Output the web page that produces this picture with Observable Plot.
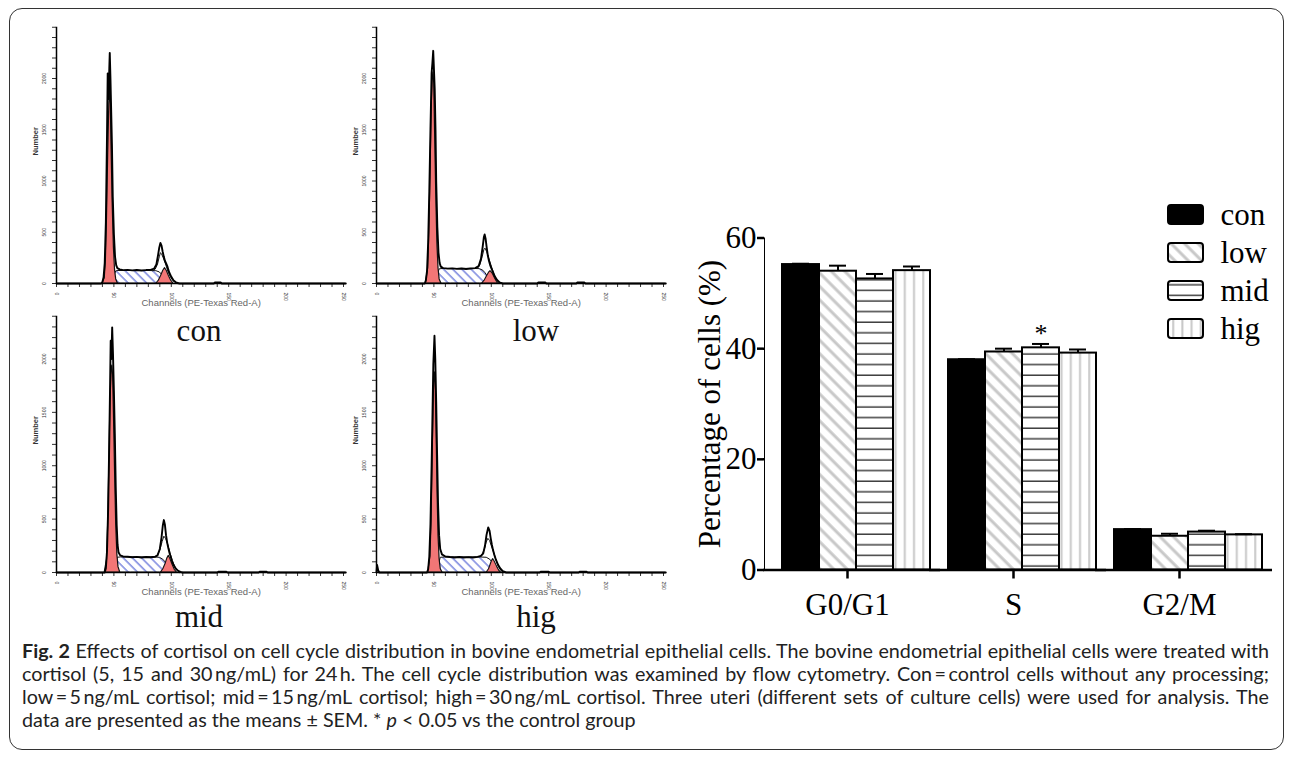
<!DOCTYPE html>
<html>
<head>
<meta charset="utf-8">
<script src="https://cdn.jsdelivr.net/npm/d3@7"></script>
<script src="https://cdn.jsdelivr.net/npm/@observablehq/plot@0.6"></script>
<style>
  html, body { margin: 0; padding: 0; background: #fff; }
  body { width: 1292px; height: 759px; position: relative; overflow: hidden; }
  .abs { position: absolute; }
  .panel-label { position: absolute; font-family: "Liberation Serif", serif; font-size: 31px; color: #111; transform: translateX(-50%); line-height: 1; }
  #caption { position: absolute; left: 22px; top: 639px; width: 1247px; font-family: Lato, sans-serif; font-size: 17px; line-height: 23px; color: #222; }
  #caption .ln { white-space: nowrap; text-align: justify; text-align-last: justify; }
  #caption .ln.last { text-align: left; text-align-last: left; }
  #caption.measure .ln { text-align: left; text-align-last: left; }
</style>
</head>
<body>
<div class="abs" style="left:9px; top:8px; width:1275px; height:742px; border:1.5px solid #333; border-radius:13px; box-sizing:border-box;"></div>

<svg width="0" height="0" style="position:absolute">
  <defs>
    <pattern id="lowHatch" patternUnits="userSpaceOnUse" width="9.5" height="9.5" patternTransform="rotate(-45)">
      <rect width="9.5" height="9.5" fill="#fff"></rect>
      <line x1="2" y1="0" x2="2" y2="9.5" stroke="#c8c8c8" stroke-width="3"></line>
    </pattern>
    <pattern id="midLines" patternUnits="userSpaceOnUse" width="10" height="10.6">
      <rect width="10" height="10.6" fill="#fff"></rect>
      <line x1="0" y1="5" x2="10" y2="5" stroke="#222" stroke-width="1.3"></line>
    </pattern>
    <pattern id="higLines" patternUnits="userSpaceOnUse" width="9.2" height="10">
      <rect width="9.2" height="10" fill="#fff"></rect>
      <line x1="4" y1="0" x2="4" y2="10" stroke="#c8c8c8" stroke-width="2"></line>
    </pattern>
    <pattern id="sHatch" patternUnits="userSpaceOnUse" width="6.5" height="6.5" patternTransform="rotate(-45)">
      <rect width="6.5" height="6.5" fill="#fff"></rect>
      <line x1="1" y1="0" x2="1" y2="6.5" stroke="#5a6ad8" stroke-width="1.2"></line>
    </pattern>
  </defs>
</svg>

<div id="h-con" class="abs" style="left:10px; top:10px;"></div>
<div id="h-low" class="abs" style="left:330px; top:10px;"></div>
<div id="h-mid" class="abs" style="left:10px; top:299px;"></div>
<div id="h-hig" class="abs" style="left:330px; top:299px;"></div>
<div id="labels"></div>
<div id="bars" class="abs" style="left:680px; top:190px;"></div>
<div id="legend" class="abs" style="left:1160px; top:195px;"></div>

<div id="caption">
  <div class="ln"><span><b>Fig. 2</b> Effects of cortisol on cell cycle distribution in bovine endometrial epithelial cells. The bovine endometrial epithelial cells were treated with</span></div>
  <div class="ln"><span>cortisol (5, 15 and 30&#8201;ng/mL) for 24&#8201;h. The cell cycle distribution was examined by flow cytometry. Con&#8201;=&#8201;control cells without any processing;</span></div>
  <div class="ln"><span>low&#8201;=&#8201;5&#8201;ng/mL cortisol; mid&#8201;=&#8201;15&#8201;ng/mL cortisol; high&#8201;=&#8201;30&#8201;ng/mL cortisol. Three uteri (different sets of culture cells) were used for analysis. The</span></div>
  <div class="ln last"><span>data are presented as the means ± SEM. * <i>p</i> &lt; 0.05 vs the control group</span></div>
</div>

<script>
// ---------------- Bar chart data ----------------
const phases = ["G0/G1", "S", "G2/M"];
const groups = ["con", "low", "mid", "hig"];
const conMean = [55.2, 38.0, 7.3];
const lowMean = [54.0, 39.4, 6.1];
const midMean = [52.6, 40.15, 6.85];
const higMean = [54.1, 39.2, 6.35];
const conSem = [0.15, 0.1, 0.1];
const lowSem = [1.0, 0.6, 0.45];
const midSem = [0.9, 0.7, 0.25];
const higSem = [0.75, 0.65, 0.12];
const starPhase = ["S"];
const starGroup = ["mid"];
const starText = ["*"];

// ---------------- Flow cytometry histograms: [channel, count] ----------------
const conRaw = [[0,0],[39,0],[40,15],[41,60],[42,200],[43,600],[44,1450],[44.6,2050],[45.3,1800],[46,2100],[46.4,2250],[47,2000],[47.6,1700],[48.3,1350],[49,850],[50,480],[51,260],[52,180],[53,150],[55,138],[58,130],[62,133],[66,128],[70,132],[74,127],[78,131],[82,133],[85,145],[87,185],[88.5,280],[89.5,350],[90.5,395],[91.5,370],[92.5,310],[93.5,260],[94.5,220],[95.5,195],[96.5,170],[97.5,130],[98.5,100],[100,65],[102,30],[104,12],[107,0],[137,0],[138,10],[143,10],[144,0],[252,0]];
const conG1 = [[40,0],[42,50],[43,220],[44,650],[45,1250],[46,1750],[46.6,1900],[47.3,1750],[48,1300],[49,750],[50,350],[51,130],[52,40],[53.5,0]];
const conS = [[47,0],[50,60],[52,118],[54,122],[60,122],[70,122],[80,122],[87,120],[90,108],[92,85],[94,55],[96,25],[98,0]];
const conG2 = [[87,0],[89,25],[91,70],[93,125],[94.5,150],[96,125],[98,70],[100,25],[102,0]];
const conFit = [[84,125],[86,140],[88,190],[89.5,260],[90.5,300],[91.5,290],[93,250],[95,190],[97,120],[99,70],[101,35],[103,12],[105,0]];

const lowRaw = [[0,0],[42,0],[43,30],[44,120],[45,400],[46,900],[47,1500],[48,2050],[48.7,2150],[49.4,2270],[50,2100],[50.7,1900],[51.4,1500],[52,1000],[53,550],[54,300],[55,200],[56,165],[58,150],[62,145],[66,148],[70,143],[74,146],[78,142],[82,147],[86,150],[89,170],[91,240],[92.5,360],[93.5,450],[94.2,478],[95,440],[96,350],[97,270],[98,220],[99,180],[100,150],[101.5,110],[103,70],[105,35],[107,12],[110,0],[140,0],[141,10],[147,10],[148,0],[174,0],[175,10],[181,10],[182,0],[252,0]];
const lowG1 = [[43,0],[45,150],[46,500],[47,1050],[48,1700],[49,2000],[49.6,2060],[50.3,1950],[51,1500],[52,900],[53,400],[54,150],[55,40],[56.5,0]];
const lowS = [[50,0],[53,70],[55,138],[58,142],[65,142],[75,142],[85,142],[90,140],[93,125],[95,100],[97,65],[99,30],[101,0]];
const lowG2 = [[92,0],[94,25],[96,65],[98,105],[99.3,120],[101,100],[103,55],[105,15],[106,0]];
const lowFit = [[88,150],[90,180],[92,260],[93.5,330],[94.5,345],[96,310],[98,240],[100,170],[102,100],[104,45],[106,15],[108,0]];

const midRaw = [[0,0],[42,0],[43,40],[44,200],[45,600],[46,1250],[46.6,1700],[47.2,2170],[47.8,2000],[48.5,2296],[49.2,2050],[50,1700],[50.8,1300],[51.6,800],[52.4,450],[53.2,260],[54,190],[55.5,160],[58,150],[62,147],[66,143],[70,146],[74,141],[78,145],[82,143],[86,148],[88,160],[90,220],[91.5,330],[92.6,440],[93.5,491],[94.4,450],[95.4,350],[96.4,280],[97.4,230],[98.4,185],[99.4,150],[100.5,110],[102,70],[104,35],[106,15],[108,5],[110,0],[140,0],[141,8],[148,8],[149,0],[176,0],[177,8],[183,8],[184,0],[252,0]];
const midG1 = [[42,0],[44,120],[45,450],[46,1000],[47,1600],[48,1880],[48.6,1937],[49.3,1850],[50,1500],[51,950],[52,450],[53,170],[54,50],[55.5,0]];
const midS = [[49,0],[51,60],[53.4,138],[56,141],[65,141],[75,141],[85,141],[90,138],[93,120],[95,95],[97,60],[99,28],[101,0]];
const midG2 = [[91,0],[93,30],[95,80],[96.5,130],[97.8,156],[99,130],[101,75],[103,25],[105,0]];
const midFit = [[86,148],[88,165],[90,210],[92,290],[93.5,340],[95,320],[97,260],[99,180],[101,110],[103,55],[105,20],[107,0]];

const higRaw = [[0,0],[0.5,70],[1.5,20],[2.5,0],[44,0],[45,30],[46,150],[47,450],[48,1000],[48.8,1500],[49.5,1950],[50.5,2218],[51.2,2000],[52,1600],[52.8,1100],[53.6,650],[54.5,350],[55.5,220],[57,170],[60,150],[64,145],[68,141],[72,145],[76,140],[80,144],[84,141],[88,146],[91,155],[93,180],[94.5,250],[95.8,350],[97.3,422],[98.5,390],[99.5,320],[100.5,260],[101.5,210],[102.5,170],[104,120],[106,70],[108,35],[110,12],[113,0],[142,0],[143,8],[150,8],[151,0],[176,0],[177,8],[183,8],[184,0],[252,0]];
const higG1 = [[45,0],[47,150],[48,500],[49,1150],[50,1700],[50.8,1875],[51.5,1780],[52.3,1350],[53.2,750],[54,350],[55,120],[56,30],[57.5,0]];
const higS = [[52,0],[54,60],[56,138],[60,141],[70,141],[80,141],[90,141],[96,138],[99,120],[101,95],[103,60],[105,28],[107,0]];
const higG2 = [[96,0],[98,30],[99.5,75],[100.5,105],[101.6,125],[103,100],[105,55],[107,15],[108.5,0]];
const higFit = [[90,150],[92,170],[94,220],[95.5,285],[97,320],[98.5,300],[100,250],[102,190],[104,120],[106,60],[108,25],[110,0]];

const panelNames = ["con", "low", "mid", "hig"];
const panelYMax = [2500, 2500, 2400, 2400];
const xTitle = "Channels (PE-Texas Red-A)";
const yTitleHist = "Number";
const barYTitle = "Percentage of cells (%)";

// ---------------- Styles ----------------
const redFill = "#f27676";
const groupFill = {con: "black", low: "url(#lowHatch)", mid: "url(#midLines)", hig: "url(#higLines)"};

// ---------------- Histograms ----------------
const panelData = {
  con: {raw: conRaw, g1: conG1, s: conS, g2: conG2, fit: conFit},
  low: {raw: lowRaw, g1: lowG1, s: lowS, g2: lowG2, fit: lowFit},
  mid: {raw: midRaw, g1: midG1, s: midS, g2: midG2, fit: midFit},
  hig: {raw: higRaw, g1: higG1, s: higS, g2: higG2, fit: higFit}
};
const X = d => d[0], Y = d => d[1];

panelNames.forEach((name, i) => {
  const p = panelData[name];
  const yMax = panelYMax[i];
  const chart = Plot.plot({
    width: 340, height: 305,
    marginLeft: 46, marginRight: 4.7, marginTop: 16.75, marginBottom: 32,
    style: {fontFamily: "Liberation Sans, Arial, sans-serif", fontSize: "5px", color: "#333", background: "transparent"},
    x: {domain: [0, 252], ticks: d3.range(0, 251, 10), tickFormat: d => d % 50 === 0 ? String(d) : "", tickSize: 4, tickPadding: 5, tickRotate: 90, label: null},
    y: {domain: [0, yMax], ticks: d3.range(0, yMax + 1, 100), tickFormat: d => (d % 500 === 0 && d <= 2000) ? String(d) : "", tickSize: 4, tickPadding: 7, tickRotate: -90, label: null},
    marks: [
      Plot.areaY(p.s, {x: X, y: Y, fill: "url(#sHatch)", stroke: "#111", strokeWidth: 1}),
      Plot.areaY(p.g1, {x: X, y: Y, fill: redFill, stroke: "#111", strokeWidth: 1.2}),
      Plot.areaY(p.g2, {x: X, y: Y, fill: redFill, stroke: "#111", strokeWidth: 1.1}),
      Plot.line(p.fit, {x: X, y: Y, stroke: "#111", strokeWidth: 1}),
      Plot.line(p.raw, {x: X, y: Y, stroke: "#000", strokeWidth: 1.9}),
      Plot.ruleY([0], {stroke: "#000", strokeWidth: 1.5}),
      Plot.ruleX([0], {stroke: "#000", strokeWidth: 1.5}),
      Plot.text([xTitle], {frameAnchor: "bottom", dy: 22, fontSize: 9.5, fill: "#666", fontFamily: "Liberation Sans, Arial, sans-serif"}),
      Plot.text([yTitleHist], {frameAnchor: "left", dx: -21, rotate: -90, fontSize: 7.5, fontWeight: "bold", fill: "#333"})
    ]
  });
  document.getElementById("h-" + name).appendChild(chart);
});

// panel labels
const labelPos = {con: [199, 339], low: [536, 339], mid: [199, 625], hig: [536, 625]};
panelNames.forEach(name => {
  const el = document.createElement("div");
  el.className = "panel-label";
  el.textContent = name;
  el.style.left = labelPos[name][0] + "px";
  el.style.top = (labelPos[name][1] - 24) + "px";
  document.getElementById("labels").appendChild(el);
});

// ---------------- Bar chart ----------------
const meanBy = {con: conMean, low: lowMean, mid: midMean, hig: higMean};
const semBy = {con: conSem, low: lowSem, mid: midSem, hig: higSem};
const rows = phases.flatMap((phase, i) => groups.map(group => ({
  phase, group, mean: meanBy[group][i], sem: semBy[group][i]
})));
const stars = starPhase.map((phase, k) => {
  const r = rows.find(d => d.phase === phase && d.group === starGroup[k]);
  return {phase, group: starGroup[k], top: r.mean + r.sem, text: starText[k]};
});

const bars = Plot.plot({
  width: 600, height: 440,
  marginLeft: 84, marginRight: 18, marginTop: 47.5, marginBottom: 60.5,
  style: {fontFamily: "Liberation Serif, Times New Roman, serif", fontSize: "31px", color: "#000", background: "transparent"},
  fx: {domain: phases, padding: 0, label: null, tickSize: 9, tickPadding: 14},
  x: {domain: groups, paddingInner: 0, paddingOuter: 0.2133, align: 1, axis: null},
  y: {domain: [0, 60], ticks: [0, 20, 40, 60], tickSize: 7, tickPadding: 1, line: true,
      label: barYTitle, labelAnchor: "center", labelOffset: 67, labelArrow: "none"},
  color: {type: "identity"},
  marks: [
    Plot.barY(rows, {fx: "phase", x: "group", y: "mean", fill: d => groupFill[d.group], stroke: "#000", strokeWidth: 2}),
    Plot.ruleX(rows, {fx: "phase", x: "group", y1: "mean", y2: d => d.mean + d.sem, stroke: "#000", strokeWidth: 2}),
    Plot.tickY(rows, {fx: "phase", x: "group", y: d => d.mean + d.sem, stroke: "#000", strokeWidth: 2, insetLeft: 10, insetRight: 10}),
    Plot.text(stars, {fx: "phase", x: "group", y: "top", text: "text", dy: -10, fontSize: 26}),
    Plot.ruleY([0], {stroke: "#000", strokeWidth: 2.5, insetLeft: -1, insetRight: -10})
  ]
});
d3.select(bars).selectAll('g[aria-label*="axis"]').attr("stroke-width", 2.5);
d3.select(bars).selectAll('g[aria-label*="axis"] path, g[aria-label*="axis"] line').attr("stroke-width", 2.5);
document.getElementById("bars").appendChild(bars);

// ---------------- Legend ----------------
const legend = Plot.plot({
  width: 130, height: 152,
  marginLeft: 8, marginRight: 87, marginTop: 0, marginBottom: 0,
  style: {fontFamily: "Liberation Serif, Times New Roman, serif", fontSize: "31px", color: "#000", background: "transparent"},
  y: {domain: groups, padding: 0, axis: null},
  color: {type: "identity"},
  marks: [
    Plot.cell(groups, {y: d => d, fill: d => groupFill[d], stroke: "#000", strokeWidth: 2, insetTop: 10, insetBottom: 9, rx: 3}),
    Plot.text(groups, {y: d => d, text: d => d, frameAnchor: "left", dx: 52, dy: 1, textAnchor: "start"})
  ]
});
document.getElementById("legend").appendChild(legend);

// ---------------- Fit caption font so the widest justified line fills the column ----------------
(function fitCaption() {
  const cap = document.getElementById("caption");
  const spans = Array.from(cap.querySelectorAll(".ln span"));
  const target = 1236;
  let size = 17;
  cap.classList.add("measure");
  for (let k = 0; k < 4; k++) {
    cap.style.fontSize = size + "px";
    const w = Math.max(...spans.slice(0, 3).map(s => s.getBoundingClientRect().width));
    size = size * target / w;
  }
  cap.style.fontSize = size.toFixed(2) + "px";
  cap.classList.remove("measure");
})();
</script>
</body>
</html>
